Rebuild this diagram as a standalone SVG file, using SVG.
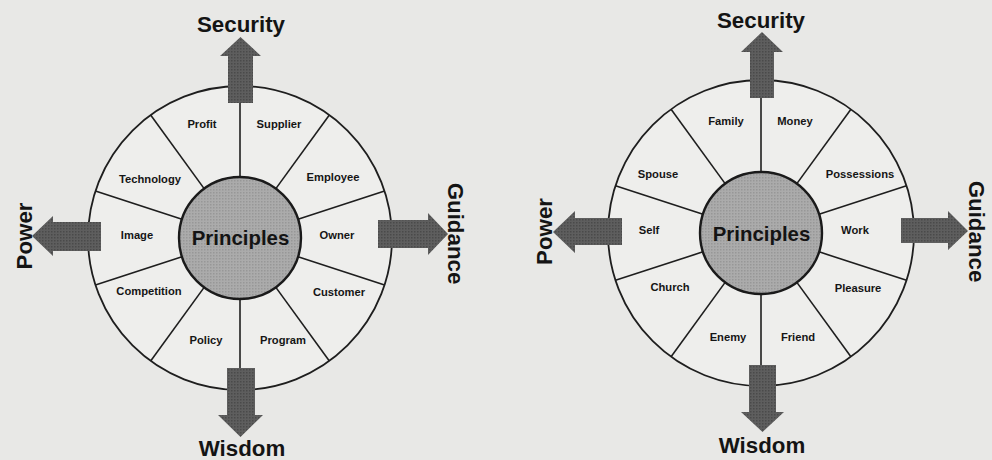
<svg xmlns="http://www.w3.org/2000/svg" width="992" height="460" viewBox="0 0 992 460">
<defs>
<pattern id="ht" width="3" height="3" patternUnits="userSpaceOnUse">
<rect width="3" height="3" fill="#5e5e5e"/>
<rect width="1.5" height="1.5" fill="#4a4a4a"/>
</pattern>
<pattern id="htl" width="3" height="3" patternUnits="userSpaceOnUse">
<rect width="3" height="3" fill="#ababab"/>
<rect width="1.5" height="1.5" fill="#979797"/>
</pattern>
</defs>
<style>
.bg{fill:#e8e8e6}
.rim{fill:#eeeeec;stroke:#1e1e1e;stroke-width:1.8}
.hub{fill:url(#htl);stroke:#1a1a1a;stroke-width:2.4}
.spoke{stroke:#1e1e1e;stroke-width:1.6;fill:none}
.arrow{fill:url(#ht);stroke:none}
.lbl{font-family:"Liberation Sans",Arial,sans-serif;font-weight:bold;font-size:11.2px;fill:#151515;text-anchor:middle}
.hubt{font-family:"Liberation Sans",Arial,sans-serif;font-weight:bold;font-size:20.4px;fill:#141414;text-anchor:middle}
.dir{font-family:"Liberation Sans",Arial,sans-serif;font-weight:bold;font-size:22.3px;fill:#141414;text-anchor:middle}
</style>
<rect class="bg" x="0" y="0" width="992" height="460"/>

<!-- LEFT WHEEL -->
<g id="left-wheel">
<circle class="rim" cx="240" cy="238" r="152"/>
<g class="spoke">
<line x1="298.02" y1="219.15" x2="384.57" y2="191.03"/>
<line x1="275.86" y1="188.65" x2="329.35" y2="115.03"/>
<line x1="240" y1="177" x2="240" y2="86"/>
<line x1="204.14" y1="188.65" x2="150.65" y2="115.03"/>
<line x1="181.98" y1="219.15" x2="95.43" y2="191.03"/>
<line x1="181.98" y1="256.85" x2="95.43" y2="284.97"/>
<line x1="204.14" y1="287.35" x2="150.65" y2="360.97"/>
<line x1="240" y1="299" x2="240" y2="390"/>
<line x1="275.86" y1="287.35" x2="329.35" y2="360.97"/>
<line x1="298.02" y1="256.85" x2="384.57" y2="284.97"/>
</g>
<g id="l-principles"><circle class="hub" cx="240" cy="238" r="61"/><text class="hubt" x="240.5" y="244.5">Principles</text></g>
<g id="l-owner"><text class="lbl" x="337" y="239">Owner</text></g>
<g id="l-employee"><text class="lbl" x="333" y="181">Employee</text></g>
<g id="l-supplier"><text class="lbl" x="279" y="128">Supplier</text></g>
<g id="l-profit"><text class="lbl" x="202" y="128">Profit</text></g>
<g id="l-technology"><text class="lbl" x="150" y="183">Technology</text></g>
<g id="l-image"><text class="lbl" x="137" y="239">Image</text></g>
<g id="l-competition"><text class="lbl" x="149" y="295">Competition</text></g>
<g id="l-policy"><text class="lbl" x="206" y="344">Policy</text></g>
<g id="l-program"><text class="lbl" x="283" y="344">Program</text></g>
<g id="l-customer"><text class="lbl" x="339" y="296">Customer</text></g>
</g>

<!-- RIGHT WHEEL -->
<g id="right-wheel">
<circle class="rim" cx="761" cy="233" r="153"/>
<g class="spoke">
<line x1="819.02" y1="214.15" x2="906.51" y2="185.72"/>
<line x1="796.86" y1="183.65" x2="850.93" y2="109.22"/>
<line x1="761" y1="172" x2="761" y2="80"/>
<line x1="725.14" y1="183.65" x2="671.07" y2="109.22"/>
<line x1="702.98" y1="214.15" x2="615.49" y2="185.72"/>
<line x1="702.98" y1="251.85" x2="615.49" y2="280.28"/>
<line x1="725.14" y1="282.35" x2="671.07" y2="356.78"/>
<line x1="761" y1="294" x2="761" y2="386"/>
<line x1="796.86" y1="282.35" x2="850.93" y2="356.78"/>
<line x1="819.02" y1="251.85" x2="906.51" y2="280.28"/>
</g>
<g id="r-principles"><circle class="hub" cx="761" cy="233" r="61"/><text class="hubt" x="761.5" y="240.5">Principles</text></g>
<g id="r-work"><text class="lbl" x="855" y="234">Work</text></g>
<g id="r-possessions"><text class="lbl" x="860" y="178">Possessions</text></g>
<g id="r-money"><text class="lbl" x="795" y="125">Money</text></g>
<g id="r-family"><text class="lbl" x="726" y="125">Family</text></g>
<g id="r-spouse"><text class="lbl" x="658" y="178">Spouse</text></g>
<g id="r-self"><text class="lbl" x="649" y="234">Self</text></g>
<g id="r-church"><text class="lbl" x="670" y="291">Church</text></g>
<g id="r-enemy"><text class="lbl" x="728" y="341">Enemy</text></g>
<g id="r-friend"><text class="lbl" x="798" y="341">Friend</text></g>
<g id="r-pleasure"><text class="lbl" x="858" y="292">Pleasure</text></g>
</g>

<!-- ARROWS (connectors) -->
<g id="connectors">
<polygon class="arrow" points="228,103 228,56 220,56 240.5,37 261,56 253,56 253,103"/>
<polygon class="arrow" points="227,368 255,368 255,415 263,415 240.5,437 218,415 227,415"/>
<polygon class="arrow" points="101,222 53,222 53,216 32,236 53,256 53,251 101,251"/>
<polygon class="arrow" points="378,220 428,220 428,213 448,234 428,255 428,248 378,248"/>
<polygon class="arrow" points="750,98 750,52 741,52 762,32 783,52 774,52 774,98"/>
<polygon class="arrow" points="749,365 776,365 776,412 784,412 762.5,432 741,412 749,412"/>
<polygon class="arrow" points="622,218 575,218 575,211 553,232 575,253 575,245 622,245"/>
<polygon class="arrow" points="901,218 948,218 948,211 968,231 948,250 948,243 901,243"/>
</g>

<!-- DIRECTION LABELS -->
<g id="l-security"><text class="dir" x="241" y="32">Security</text></g>
<g id="l-wisdom"><text class="dir" x="242" y="456">Wisdom</text></g>
<g id="l-power"><text class="dir" transform="translate(32,236) rotate(-90)">Power</text></g>
<g id="l-guidance"><text class="dir" transform="translate(448,233.5) rotate(90)">Guidance</text></g>
<g id="r-security"><text class="dir" x="761" y="28">Security</text></g>
<g id="r-wisdom"><text class="dir" x="762" y="453">Wisdom</text></g>
<g id="r-power"><text class="dir" transform="translate(552,231.5) rotate(-90)">Power</text></g>
<g id="r-guidance"><text class="dir" transform="translate(969,231.5) rotate(90)">Guidance</text></g>
</svg>
